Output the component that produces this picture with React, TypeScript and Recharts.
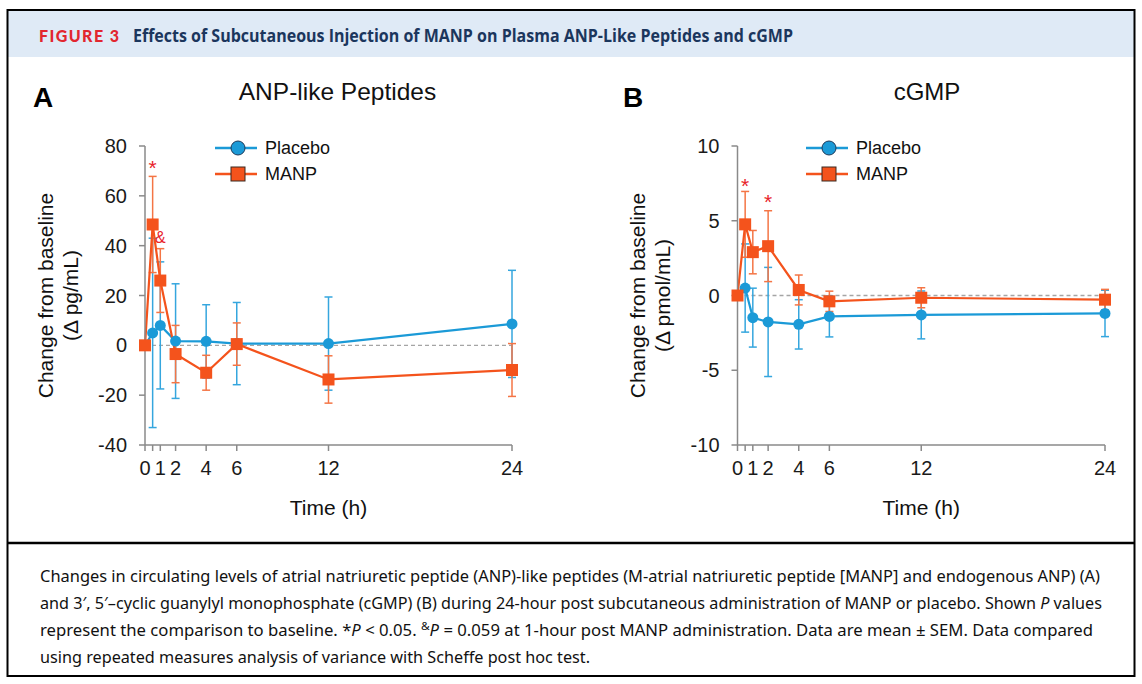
import React from 'react';
import { LineChart, Line, XAxis, YAxis, ErrorBar, ReferenceLine, ReferenceDot, Legend } from 'recharts';

// ---- data ----
const hours = [0, 0.5, 1, 2, 4, 6, 12, 24];
const hourTicks = [0, 0.5, 1, 2, 4, 6, 12, 24];
const hourTickLabels = ['0', '', '1', '2', '4', '6', '12', '24'];

const anpTicks = [-40, -20, 0, 20, 40, 60, 80];
const cgmpTicks = [-10, -5, 0, 5, 10];

const anpPlacebo = [0, 5, 8, 1.7, 1.6, 0.7, 0.7, 8.6];
const anpPlaceboSem = [0, 38, 25.5, 23, 14.7, 16.5, 18.7, 21.5];
const anpManp = [0, 48.5, 26, -3.5, -11, 0.5, -13.7, -9.9];
const anpManpSem = [0, 19.3, 12.8, 11.5, 7, 8.5, 9.5, 10.6];

const cgmpPlacebo = [0, 0.5, -1.48, -1.77, -1.93, -1.4, -1.3, -1.2];
const cgmpPlaceboSem = [0, 2.95, 1.97, 3.65, 1.65, 1.37, 1.6, 1.55];
const cgmpManp = [0, 4.76, 2.9, 3.3, 0.37, -0.39, -0.15, -0.28];
const cgmpManpSem = [0, 2.2, 1.45, 2.37, 1.0, 0.68, 0.67, 0.69];

const seriesNames = ['Placebo', 'MANP'];

const anpMarks = [
  { hour: 0.5, value: 68.5, text: '*' },
  { hour: 1, value: 41, text: '&' },
];
const cgmpMarks = [
  { hour: 0.5, value: 6.85, text: '*' },
  { hour: 2, value: 5.8, text: '*' },
];

// ---- style ----
const BLUE = '#1b9ad7';
const BLUE_ERR = '#35a6de';
const ORANGE = '#f4531c';
const ORANGE_ERR = '#f47545';
const AXIS = '#8a8a8a';
const ARIAL = 'Liberation Sans, Arial, Helvetica, sans-serif';

const buildRows = (p: number[], pe: number[], m: number[], me: number[]) =>
  hours.map((h, i) => ({ hour: h, placebo: p[i], placeboErr: pe[i], manp: m[i], manpErr: me[i] }));

const anpRows = buildRows(anpPlacebo, anpPlaceboSem, anpManp, anpManpSem);
const cgmpRows = buildRows(cgmpPlacebo, cgmpPlaceboSem, cgmpManp, cgmpManpSem);

const SquareDot = (props: any) => {
  const { cx, cy, index } = props;
  if (cx == null || cy == null) return null;
  return <rect key={`sq-${index}`} x={cx - 6} y={cy - 6} width={12} height={12} fill={ORANGE} />;
};

const LegendBox = () => (
  <svg width={160} height={52} style={{ display: 'block', overflow: 'visible' }}>
    <line x1={10} x2={52} y1={13} y2={13} stroke={BLUE} strokeWidth={2.5} />
    <circle cx={33} cy={13} r={7} fill={BLUE} stroke="#1f3a5a" strokeWidth={1} />
    <text x={60} y={13} dominantBaseline="central" fontFamily={ARIAL} fontSize={18} fill="#111">{seriesNames[0]}</text>
    <line x1={10} x2={52} y1={39} y2={39} stroke={ORANGE} strokeWidth={2.5} />
    <rect x={26} y={32} width={14} height={14} fill={ORANGE} stroke="#3a2a20" strokeWidth={1} />
    <text x={60} y={39} dominantBaseline="central" fontFamily={ARIAL} fontSize={18} fill="#111">{seriesNames[1]}</text>
  </svg>
);

type PanelProps = {
  rows: any[];
  yTicks: number[];
  unit: string;
  marks: { hour: number; value: number; text: string }[];
  left: number;
  width: number;
  margin: { top: number; right: number; bottom: number; left: number };
  legendLeft: number;
};

const Panel = ({ rows, yTicks, unit, marks, left, width, margin, legendLeft }: PanelProps) => {
  const yLabel = (props: any) => {
    const vb = props.viewBox || {};
    const plotLeft = vb.x + vb.width;
    const cy = vb.y + vb.height / 2;
    return (
      <g>
        <text x={plotLeft - 100} y={cy} transform={`rotate(-90 ${plotLeft - 100} ${cy})`} textAnchor="middle" dominantBaseline="central" fontFamily={ARIAL} fontSize={21} fill="#111">Change from baseline</text>
        <text x={plotLeft - 75} y={cy} transform={`rotate(-90 ${plotLeft - 75} ${cy})`} textAnchor="middle" dominantBaseline="central" fontFamily={ARIAL} fontSize={21} fill="#111">{unit}</text>
      </g>
    );
  };
  const xLabel = (props: any) => {
    const vb = props.viewBox || {};
    return (
      <text x={vb.x + vb.width / 2} y={vb.y + 70} textAnchor="middle" fontFamily={ARIAL} fontSize={21} fill="#111">Time (h)</text>
    );
  };
  return (
    <div style={{ position: 'absolute', left, top: 60, width, height: 480 }}>
      <LineChart width={width} height={480} data={rows} margin={margin}>
        <XAxis
          dataKey="hour"
          type="number"
          domain={[0, 24]}
          ticks={hourTicks}
          interval={0}
          tickFormatter={(v: number) => hourTickLabels[hourTicks.indexOf(v)]}
          height={60}
          tickSize={6}
          tickMargin={10}
          axisLine={{ stroke: AXIS, strokeWidth: 1.5 }}
          tickLine={{ stroke: AXIS, strokeWidth: 1.5 }}
          tick={{ fontSize: 20, fill: '#1a1a1a', fontFamily: ARIAL }}
          label={{ content: xLabel }}
        />
        <YAxis
          type="number"
          domain={[yTicks[0], yTicks[yTicks.length - 1]]}
          ticks={yTicks}
          interval={0}
          width={70}
          tickSize={6}
          tickMargin={12}
          axisLine={{ stroke: AXIS, strokeWidth: 1.5 }}
          tickLine={{ stroke: AXIS, strokeWidth: 1.5 }}
          tick={{ fontSize: 20, fill: '#1a1a1a', fontFamily: ARIAL }}
          label={{ content: yLabel }}
        />
        <ReferenceLine y={0} stroke="#a5a5a5" strokeWidth={1.3} strokeDasharray="4 3" />
        <Line
          dataKey="placebo"
          stroke={BLUE}
          strokeWidth={2.2}
          dot={{ r: 5.5, fill: BLUE, stroke: BLUE, strokeWidth: 0 }}
          activeDot={false}
          isAnimationActive={false}
        >
          <ErrorBar dataKey="placeboErr" direction="y" width={4} stroke={BLUE_ERR} strokeWidth={1.5} isAnimationActive={false} />
        </Line>
        <Line
          dataKey="manp"
          stroke={ORANGE}
          strokeWidth={2.2}
          dot={<SquareDot />}
          activeDot={false}
          isAnimationActive={false}
        >
          <ErrorBar dataKey="manpErr" direction="y" width={4} stroke={ORANGE_ERR} strokeWidth={1.5} isAnimationActive={false} />
        </Line>
        {marks.map((m, i) => (
          <ReferenceDot
            key={`mk-${i}`}
            x={m.hour}
            y={m.value}
            r={0}
            shape={(p: any) => (
              <text x={p.cx} y={p.cy} textAnchor="middle" fontFamily={ARIAL} fontSize={m.text === '*' ? 21 : 16} fill="#e8232b">{m.text}</text>
            )}
          />
        ))}
        <Legend
          layout="vertical"
          align="center"
          verticalAlign="middle"
          content={() => <LegendBox />}
          wrapperStyle={{ left: legendLeft, top: 75, width: 160, height: 52 }}
        />
      </LineChart>
    </div>
  );
};

const captionFont = 'Noto Sans, Open Sans, sans-serif';

export default function App() {
  return (
    <div style={{ position: 'absolute', left: 0, top: 0, width: 1142, height: 684, overflow: 'hidden', background: '#fff' }}>
      <svg width={1142} height={684} style={{ position: 'absolute', left: 0, top: 0 }}>
        <rect x={8} y={11} width={1126} height={46} fill="#dfeaf6" />
        <rect x={7.5} y={10} width={1127} height={666} fill="none" stroke="#000" strokeWidth={2} />
        <line x1={7.5} x2={1134.5} y1={543} y2={543} stroke="#000" strokeWidth={2.5} />
        <text x={39} y={42} fontFamily="Lato, Open Sans, sans-serif" fontWeight={900} fontSize={16} fill="#e2262f" textLength={80} lengthAdjust="spacing">FIGURE 3</text>
        <text x={133} y={42} fontFamily="Open Sans, Lato, sans-serif" fontWeight={700} fontSize={17} fill="#1b365d" textLength={660} lengthAdjust="spacingAndGlyphs">Effects of Subcutaneous Injection of MANP on Plasma ANP-Like Peptides and cGMP</text>
        <text x={33} y={107} fontFamily={ARIAL} fontWeight={700} fontSize={28} fill="#000">A</text>
        <text x={623} y={107} fontFamily={ARIAL} fontWeight={700} fontSize={28} fill="#000">B</text>
        <text x={337.5} y={100} textAnchor="middle" fontFamily={ARIAL} fontSize={24.5} fill="#111">ANP-like Peptides</text>
        <text x={927} y={100} textAnchor="middle" fontFamily={ARIAL} fontSize={24} fill="#111">cGMP</text>
        <g fontFamily={captionFont} fontSize={15.5} fill="#111">
          <text x={40} y={582} textLength={1060} lengthAdjust="spacingAndGlyphs">Changes in circulating levels of atrial natriuretic peptide (ANP)-like peptides (M-atrial natriuretic peptide [MANP] and endogenous ANP) (A)</text>
          <text x={40} y={609} textLength={1062} lengthAdjust="spacingAndGlyphs">and 3′, 5′–cyclic guanylyl monophosphate (cGMP) (B) during 24-hour post subcutaneous administration of MANP or placebo. Shown <tspan fontStyle="italic">P</tspan> values</text>
          <text x={40} y={636} textLength={1053} lengthAdjust="spacingAndGlyphs">represent the comparison to baseline. *<tspan fontStyle="italic">P</tspan> {'<'} 0.05. <tspan fontSize={11} dy={-6}>&amp;</tspan><tspan fontStyle="italic" dy={6}>P</tspan> = 0.059 at 1-hour post MANP administration. Data are mean ± SEM. Data compared</text>
          <text x={40} y={663} textLength={550} lengthAdjust="spacingAndGlyphs">using repeated measures analysis of variance with Scheffe post hoc test.</text>
        </g>
      </svg>
      <Panel
        rows={anpRows}
        yTicks={anpTicks}
        unit="(Δ pg/mL)"
        marks={anpMarks}
        left={0}
        width={560}
        margin={{ top: 86, right: 48, bottom: 35, left: 75 }}
        legendLeft={205}
      />
      <Panel
        rows={cgmpRows}
        yTicks={cgmpTicks}
        unit="(Δ pmol/mL)"
        marks={cgmpMarks}
        left={590}
        width={552}
        margin={{ top: 86, right: 37, bottom: 35, left: 77.5 }}
        legendLeft={206}
      />
    </div>
  );
}
